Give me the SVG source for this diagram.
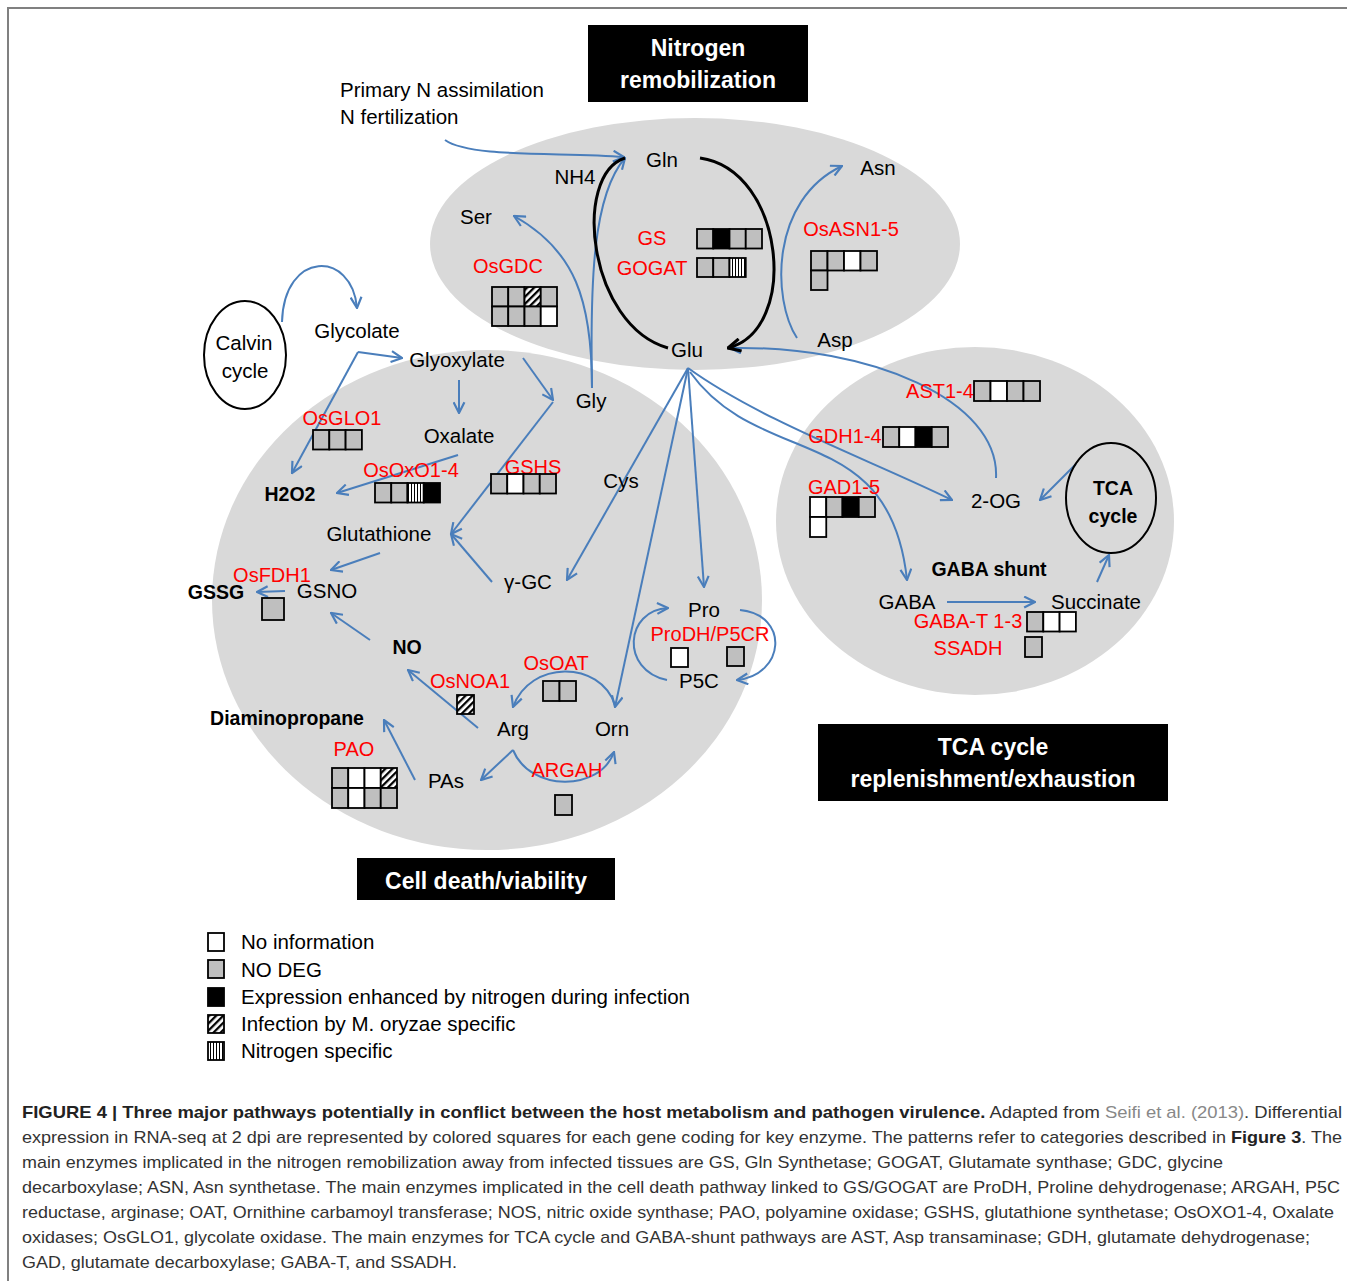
<svg xmlns="http://www.w3.org/2000/svg" width="1347" height="1281" viewBox="0 0 1347 1281">
<style>
text{font-family:"Liberation Sans",Arial,sans-serif}
.lb{font-size:20.5px;fill:#000;text-anchor:middle}
.ls{font-size:20.5px;fill:#000}
.bd{font-size:19.5px;font-weight:bold;fill:#000;text-anchor:middle}
.rd{font-size:20px;fill:#ff0000;text-anchor:middle}
.hd{font-size:23px;font-weight:bold;fill:#fff;text-anchor:middle}
.cap{font-size:17px;fill:#333}
.capb{font-weight:bold;fill:#222}
.capg{fill:#888}
.bl{fill:none;stroke:#4a7ebb;stroke-width:2;marker-end:url(#ab)}
.blk{fill:none;stroke:#000;stroke-width:3}
.zone{fill:#d9d9d9}
.g{fill:#bfbfbf;stroke:#000;stroke-width:1.8}
.w{fill:#fff;stroke:#000;stroke-width:1.8}
.k{fill:#000;stroke:#000;stroke-width:1.8}
.h{fill:url(#hatch);stroke:#000;stroke-width:1.8}
.v{fill:url(#vstr);stroke:#000;stroke-width:1.8}
</style>
<defs>
<marker id="ab" viewBox="0 0 12 12" refX="11" refY="6" markerWidth="13" markerHeight="13" markerUnits="userSpaceOnUse" orient="auto">
<path d="M1,1 L11,6 L1,11" fill="none" stroke="#4a7ebb" stroke-width="2"/>
</marker>
<marker id="ak" viewBox="0 0 12 12" refX="11" refY="6" markerWidth="15" markerHeight="15" markerUnits="userSpaceOnUse" orient="auto">
<path d="M1,1 L11,6 L1,11" fill="none" stroke="#000" stroke-width="2.5"/>
</marker>
<pattern id="hatch" patternUnits="userSpaceOnUse" width="5" height="5" patternTransform="rotate(45)">
<rect width="5" height="5" fill="#fff"/><rect width="2.3" height="5" fill="#000"/>
</pattern>
<pattern id="vstr" patternUnits="userSpaceOnUse" width="3" height="4">
<rect width="3" height="4" fill="#fff"/><rect width="1" height="4" fill="#000"/>
</pattern>
</defs>
<rect width="1347" height="1281" fill="#fff"/>
<path d="M8,1281 L8,8 L1347,8" fill="none" stroke="#808080" stroke-width="2"/>

<g id="zones">
<ellipse class="zone" cx="695" cy="244" rx="265" ry="126"/>
<ellipse class="zone" cx="487" cy="600" rx="275" ry="250"/>
<ellipse class="zone" cx="975" cy="521" rx="199" ry="174"/>
</g>

<g id="headers">
<g id="hdr-nitrogen"><rect x="588" y="25" width="220" height="77" fill="#000"/><text class="hd" x="698" y="56">Nitrogen</text><text class="hd" x="698" y="88">remobilization</text></g>
<g id="hdr-tca"><rect x="818" y="724" width="350" height="77" fill="#000"/><text class="hd" x="993" y="755">TCA cycle</text><text class="hd" x="993" y="787">replenishment/exhaustion</text></g>
<g id="hdr-cell"><rect x="357" y="858" width="258" height="42" fill="#000"/><text class="hd" x="486" y="889">Cell death/viability</text></g>
</g>

<g id="connectors">
<path class="bl" d="M445,140 C470,158 560,152 624,157"/>
<path class="bl" d="M592,388 C592,300 575,250 514,216"/>
<path class="bl" d="M592,388 C590,280 593,195 625,158"/>
<path class="bl" d="M797,338 C772,300 770,200 842,166"/>
<path class="bl" d="M282,322 C284,250 352,250 357,308"/>
<path class="bl" d="M358,352 L402,358"/>
<path class="bl" d="M358,352 L292,473"/>
<path class="bl" d="M459,380 L459,413"/>
<path class="bl" d="M523,358 L553,400"/>
<path class="bl" d="M553,402 L451,534"/>
<path class="bl" d="M492,582 L451,534"/>
<path class="bl" d="M458,455 L337,493"/>
<path class="bl" d="M688,368 L567,580"/>
<path class="bl" d="M688,368 L615,707"/>
<path class="bl" d="M688,368 L704,587"/>
<path class="bl" d="M688,368 C760,420 870,460 952,500"/>
<path class="bl" d="M690,372 C760,470 890,420 907,580"/>
<path class="bl" d="M996,478 C1000,400 870,345 730,348"/>
<path class="bl" d="M1076,464 L1040,500"/>
<path class="bl" d="M1097,582 L1109,555"/>
<path class="bl" d="M947,602 L1035,602"/>
<path class="bl" d="M380,553 L331,570"/>
<path class="bl" d="M285,591 L257,592"/>
<path class="bl" d="M370,640 L331,613"/>
<path class="bl" d="M478,728 L408,670"/>
<path class="bl" d="M615,705 C600,660 530,660 513,707"/>
<path class="bl" d="M513,750 C530,792 600,792 614,752"/>
<path class="bl" d="M513,750 L481,780"/>
<path class="bl" d="M415,780 L384,720"/>
<path class="bl" d="M667,680 C620,670 625,610 668,608"/>
<path class="bl" d="M740,610 C790,615 785,675 737,680"/>
<path class="blk" d="M700,158 C785,170 800,330 728,348" marker-end="url(#ak)"/>
<path class="blk" d="M668,348 C588,325 572,175 625,158"/>
</g>

<g id="calvin"><ellipse cx="245" cy="355" rx="41" ry="54" fill="#fff" stroke="#000" stroke-width="2"/><text class="lb" x="244" y="350">Calvin</text><text class="lb" x="245" y="378">cycle</text></g>
<g id="tca"><ellipse cx="1111" cy="498" rx="45" ry="55" fill="none" stroke="#000" stroke-width="2"/><text class="bd" x="1113" y="495">TCA</text><text class="bd" x="1113" y="523">cycle</text></g>

<g id="input"><text class="ls" x="340" y="97">Primary N assimilation</text><text class="ls" x="340" y="124">N fertilization</text></g>

<g id="metabolites">
<text class="lb" x="662" y="167">Gln</text>
<text class="lb" x="575" y="184">NH4</text>
<text class="lb" x="878" y="175">Asn</text>
<text class="lb" x="476" y="224">Ser</text>
<text class="lb" x="835" y="347">Asp</text>
<text class="lb" x="687" y="357">Glu</text>
<text class="lb" x="357" y="338">Glycolate</text>
<text class="lb" x="457" y="367">Glyoxylate</text>
<text class="lb" x="591" y="408">Gly</text>
<text class="lb" x="459" y="443">Oxalate</text>
<text class="bd" x="290" y="501">H2O2</text>
<text class="lb" x="621" y="488">Cys</text>
<text class="lb" x="379" y="541">Glutathione</text>
<text class="lb" x="528" y="589">γ-GC</text>
<text class="bd" x="216" y="599">GSSG</text>
<text class="lb" x="327" y="598">GSNO</text>
<text class="bd" x="407" y="654">NO</text>
<text class="bd" x="287" y="725">Diaminopropane</text>
<text class="lb" x="513" y="736">Arg</text>
<text class="lb" x="612" y="736">Orn</text>
<text class="lb" x="446" y="788">PAs</text>
<text class="lb" x="704" y="617">Pro</text>
<text class="lb" x="699" y="688">P5C</text>
<text class="lb" x="996" y="508">2-OG</text>
<text class="bd" x="989" y="576">GABA shunt</text>
<text class="lb" x="907" y="609">GABA</text>
<text class="lb" x="1096" y="609">Succinate</text>
</g>

<g id="enz-gs"><text class="rd" x="652" y="245">GS</text><rect class="g" x="697" y="229" width="16.25" height="19.5"/><rect class="k" x="713.25" y="229" width="16.25" height="19.5"/><rect class="g" x="729.5" y="229" width="16.25" height="19.5"/><rect class="g" x="745.75" y="229" width="16.25" height="19.5"/></g>
<g id="enz-gogat"><text class="rd" x="652" y="275">GOGAT</text><rect class="g" x="697" y="258" width="16.25" height="19"/><rect class="g" x="713.25" y="258" width="16.25" height="19"/><rect class="v" x="729.5" y="258" width="16.25" height="19"/></g>
<g id="enz-gdc"><text class="rd" x="508" y="273">OsGDC</text><rect class="g" x="492" y="287" width="16.25" height="19.5"/><rect class="g" x="508.25" y="287" width="16.25" height="19.5"/><rect class="h" x="524.5" y="287" width="16.25" height="19.5"/><rect class="g" x="540.75" y="287" width="16.25" height="19.5"/><rect class="g" x="492" y="306.5" width="16.25" height="19.5"/><rect class="g" x="508.25" y="306.5" width="16.25" height="19.5"/><rect class="g" x="524.5" y="306.5" width="16.25" height="19.5"/><rect class="w" x="540.75" y="306.5" width="16.25" height="19.5"/></g>
<g id="enz-asn"><text class="rd" x="851" y="236">OsASN1-5</text><rect class="g" x="811" y="251" width="16.5" height="19.5"/><rect class="g" x="827.5" y="251" width="16.5" height="19.5"/><rect class="w" x="844" y="251" width="16.5" height="19.5"/><rect class="g" x="860.5" y="251" width="16.5" height="19.5"/><rect class="g" x="811" y="270.5" width="16.5" height="19.5"/></g>
<g id="enz-glo"><text class="rd" x="342" y="425">OsGLO1</text><rect class="g" x="313" y="430" width="16.3" height="19.5"/><rect class="g" x="329.3" y="430" width="16.3" height="19.5"/><rect class="g" x="345.6" y="430" width="16.3" height="19.5"/></g>
<g id="enz-oxo"><text class="rd" x="411" y="477">OsOxO1-4</text><rect class="g" x="375" y="483" width="16.25" height="19.5"/><rect class="g" x="391.25" y="483" width="16.25" height="19.5"/><rect class="v" x="407.5" y="483" width="16.25" height="19.5"/><rect class="k" x="423.75" y="483" width="16.25" height="19.5"/></g>
<g id="enz-gshs"><text class="rd" x="533" y="474">GSHS</text><rect class="g" x="491" y="474" width="16.25" height="19.5"/><rect class="w" x="507.25" y="474" width="16.25" height="19.5"/><rect class="g" x="523.5" y="474" width="16.25" height="19.5"/><rect class="g" x="539.75" y="474" width="16.25" height="19.5"/></g>
<g id="enz-fdh"><text class="rd" x="272" y="582">OsFDH1</text><rect class="g" x="262" y="598" width="22" height="22"/></g>
<g id="enz-noa"><text class="rd" x="470" y="688">OsNOA1</text><rect class="h" x="457" y="695" width="17" height="19"/></g>
<g id="enz-oat"><text class="rd" x="556" y="670">OsOAT</text><rect class="g" x="543" y="681" width="16.5" height="20"/><rect class="g" x="559.5" y="681" width="16.5" height="20"/></g>
<g id="enz-pao"><text class="rd" x="354" y="756">PAO</text><rect class="g" x="332" y="768" width="16.25" height="20"/><rect class="w" x="348.25" y="768" width="16.25" height="20"/><rect class="w" x="364.5" y="768" width="16.25" height="20"/><rect class="h" x="380.75" y="768" width="16.25" height="20"/><rect class="g" x="332" y="788" width="16.25" height="20"/><rect class="w" x="348.25" y="788" width="16.25" height="20"/><rect class="g" x="364.5" y="788" width="16.25" height="20"/><rect class="g" x="380.75" y="788" width="16.25" height="20"/></g>
<g id="enz-argah"><text class="rd" x="567" y="777">ARGAH</text><rect class="g" x="555" y="795" width="17" height="20"/></g>
<g id="enz-prodh"><text class="rd" x="710" y="641">ProDH/P5CR</text><rect class="w" x="671" y="648" width="17" height="19"/><rect class="g" x="727" y="647" width="17" height="19"/></g>
<g id="enz-ast"><text class="rd" x="940" y="398">AST1-4</text><rect class="g" x="974" y="381" width="16.5" height="20"/><rect class="w" x="990.5" y="381" width="16.5" height="20"/><rect class="g" x="1007" y="381" width="16.5" height="20"/><rect class="g" x="1023.5" y="381" width="16.5" height="20"/></g>
<g id="enz-gdh"><text class="rd" x="845" y="443">GDH1-4</text><rect class="g" x="883" y="427" width="16.25" height="20"/><rect class="w" x="899.25" y="427" width="16.25" height="20"/><rect class="k" x="915.5" y="427" width="16.25" height="20"/><rect class="g" x="931.75" y="427" width="16.25" height="20"/></g>
<g id="enz-gad"><text class="rd" x="844" y="494">GAD1-5</text><rect class="w" x="810" y="497" width="16.25" height="20"/><rect class="g" x="826.25" y="497" width="16.25" height="20"/><rect class="k" x="842.5" y="497" width="16.25" height="20"/><rect class="g" x="858.75" y="497" width="16.25" height="20"/><rect class="w" x="810" y="517" width="16.25" height="20"/></g>
<g id="enz-gabat"><text class="rd" x="968" y="628">GABA-T 1-3</text><rect class="g" x="1027" y="612" width="16.3" height="19.5"/><rect class="w" x="1043.3" y="612" width="16.3" height="19.5"/><rect class="w" x="1059.6" y="612" width="16.3" height="19.5"/></g>
<g id="enz-ssadh"><text class="rd" x="968" y="655">SSADH</text><rect class="g" x="1025" y="637" width="17" height="20"/></g>

<g id="legend">
<rect class="w" x="208" y="933" width="16" height="18"/><text class="ls" x="241" y="949">No information</text>
<rect class="g" x="208" y="960" width="16" height="18"/><text class="ls" x="241" y="977">NO DEG</text>
<rect class="k" x="208" y="988" width="16" height="18"/><text class="ls" x="241" y="1004">Expression enhanced by nitrogen during infection</text>
<rect class="h" x="208" y="1015" width="16" height="18"/><text class="ls" x="241" y="1031">Infection by M. oryzae specific</text>
<rect class="v" x="208" y="1042" width="16" height="18"/><text class="ls" x="241" y="1058">Nitrogen specific</text>
</g>

<g id="caption">
<text class="cap" x="22" y="1118" textLength="1320" lengthAdjust="spacingAndGlyphs"><tspan class="capb">FIGURE 4 | Three major pathways potentially in conflict between the host metabolism and pathogen virulence.</tspan> Adapted from <tspan class="capg">Seifi et al. (2013)</tspan>. Differential</text>
<text class="cap" x="22" y="1143" textLength="1320" lengthAdjust="spacingAndGlyphs">expression in RNA-seq at 2 dpi are represented by colored squares for each gene coding for key enzyme. The patterns refer to categories described in <tspan class="capb">Figure 3</tspan>. The</text>
<text class="cap" x="22" y="1168" textLength="1201" lengthAdjust="spacingAndGlyphs">main enzymes implicated in the nitrogen remobilization away from infected tissues are GS, Gln Synthetase; GOGAT, Glutamate synthase; GDC, glycine</text>
<text class="cap" x="22" y="1193" textLength="1318" lengthAdjust="spacingAndGlyphs">decarboxylase; ASN, Asn synthetase. The main enzymes implicated in the cell death pathway linked to GS/GOGAT are ProDH, Proline dehydrogenase; ARGAH, P5C</text>
<text class="cap" x="22" y="1218" textLength="1312" lengthAdjust="spacingAndGlyphs">reductase, arginase; OAT, Ornithine carbamoyl transferase; NOS, nitric oxide synthase; PAO, polyamine oxidase; GSHS, glutathione synthetase; OsOXO1-4, Oxalate</text>
<text class="cap" x="22" y="1243" textLength="1288" lengthAdjust="spacingAndGlyphs">oxidases; OsGLO1, glycolate oxidase. The main enzymes for TCA cycle and GABA-shunt pathways are AST, Asp transaminase; GDH, glutamate dehydrogenase;</text>
<text class="cap" x="22" y="1268" textLength="435" lengthAdjust="spacingAndGlyphs">GAD, glutamate decarboxylase; GABA-T, and SSADH.</text>
</g>
</svg>
